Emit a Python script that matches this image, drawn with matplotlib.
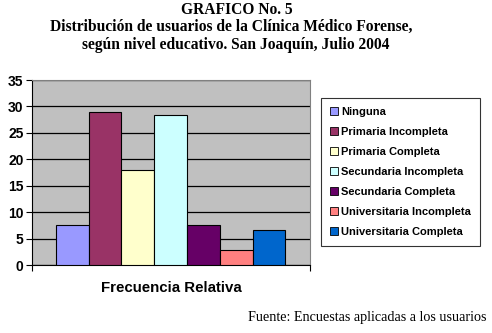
import matplotlib
matplotlib.use("Agg")
import matplotlib.pyplot as plt
from matplotlib.patches import Patch

categories = ["Ninguna", "Primaria Incompleta", "Primaria Completa",
              "Secundaria Incompleta", "Secundaria Completa",
              "Universitaria Incompleta", "Universitaria Completa"]
values = [7.6, 29.0, 18.0, 28.4, 7.6, 2.8, 6.6]
colors = ["#9999FF", "#993366", "#FFFFCC", "#CCFFFF", "#660066", "#FF8080", "#0066CC"]
yticks = [0, 5, 10, 15, 20, 25, 30, 35]

fig = plt.figure(figsize=(4.92, 3.33), dpi=100)
fig.patch.set_facecolor("white")
ax = fig.add_axes([32/492, 1-265.3/333, (310-32)/492, (265.3-80)/333])
ax.set_facecolor("#C0C0C0")

pos = list(range(len(values)))
ax.bar(pos, values, width=1.0, color=colors, edgecolor="black", linewidth=0.8, zorder=3)

ax.set_ylim(0, 35)
ax.set_xlim(-0.5-0.73, len(values)-0.5+0.75)
ax.set_yticks(yticks)
ax.set_yticklabels([str(t) for t in yticks], fontfamily="Liberation Sans",
                   fontweight="bold", fontsize=10)
ax.yaxis.grid(True, color="black", linewidth=0.9, zorder=1)
ax.set_axisbelow(True)
ax.set_xticks(list(ax.get_xlim()))
ax.set_xticklabels([])
ax.tick_params(axis="x", length=4, width=0.8, direction="out")
ax.tick_params(axis="y", length=4, width=0.8, direction="out", pad=2)
ax.spines["left"].set_color("black")
ax.spines["bottom"].set_color("black")
ax.spines["top"].set_color("#808080")
ax.spines["right"].set_color("#808080")

ax.set_xlabel("Frecuencia Relativa", fontfamily="Liberation Sans",
              fontweight="bold", fontsize=10.8, labelpad=4)

handles = [Patch(facecolor=c, edgecolor="black", linewidth=0.6) for c in colors]
leg = fig.legend(handles, categories, loc="upper left",
                 bbox_to_anchor=(321/492, 1-98/333),
                 prop={"family": "Liberation Sans", "weight": "bold", "size": 8},
                 handlelength=0.7, handleheight=0.7, handletextpad=0.3,
                 labelspacing=0.9, borderpad=0.8, fancybox=False,
                 frameon=True, edgecolor="black", borderaxespad=0)
leg.get_frame().set_linewidth(0.8)

fig.text(237/492, 1-10/333, "GRAFICO No. 5", ha="center", va="center",
         fontfamily="Liberation Serif", fontweight="bold", fontsize=11.2)
fig.text(231/492, 1-27/333, "Distribución de usuarios de la Clínica Médico Forense,",
         ha="center", va="center", fontfamily="Liberation Serif",
         fontweight="bold", fontsize=11.2)
fig.text(236/492, 1-45/333, "según nivel educativo. San Joaquín, Julio 2004",
         ha="center", va="center", fontfamily="Liberation Serif",
         fontweight="bold", fontsize=11.2)
fig.text(487/492, 1-318/333, "Fuente: Encuestas aplicadas a los usuarios",
         ha="right", va="center", fontfamily="Liberation Serif", fontsize=10.2)

fig.savefig("out.png", dpi=100)
